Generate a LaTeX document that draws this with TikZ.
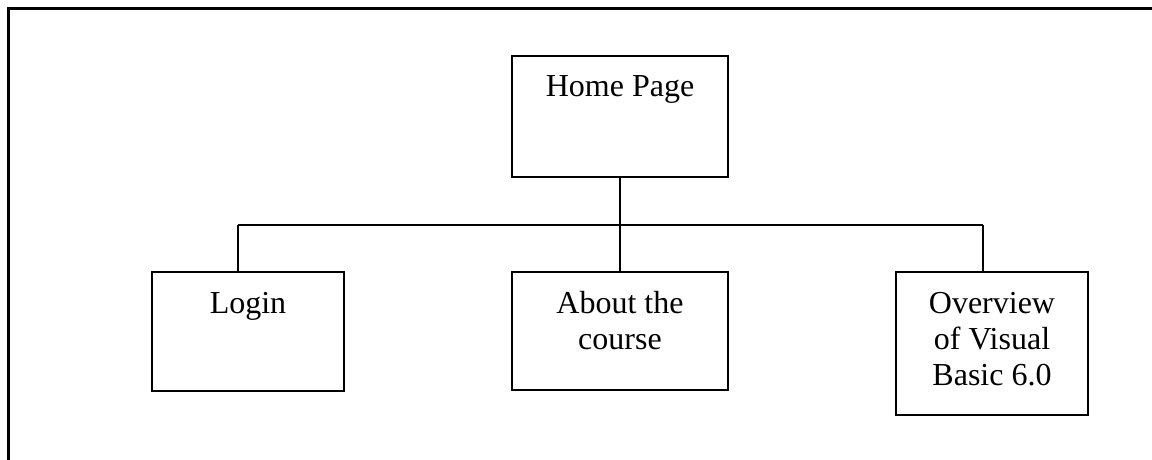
\documentclass[tikz,border=0pt]{standalone}
\usepackage{fontspec}
\setmainfont{Liberation Serif}
\usetikzlibrary{positioning,calc}

\begin{document}
\begin{tikzpicture}[
  x=1pt, y=1pt,
  pagebox/.style={draw=black, line width=1pt, anchor=north, align=center, inner xsep=0pt, inner ysep=0pt, font=\fontsize{16}{18}\selectfont},
  link/.style={draw=black, line width=0.8pt}
]
\useasboundingbox (0,0) rectangle (576,-230);
% page frame
\draw[line width=1.5pt] (4,-230) -- (4,-4.5) -- (576,-4.5);

\node[pagebox, minimum width=108pt, text height=20.5pt, text depth=40pt] (home) at (310,-27.5) {Home Page};

\node[pagebox, minimum width=96pt, text height=20.5pt, text depth=39pt] (login) at (124,-135.5) {Login};
\node[pagebox, minimum width=108pt, text height=38.5pt, text depth=20.5pt] (about) at (310,-135.5) {About the\\course};
\node[pagebox, minimum width=96pt, text height=56.5pt, text depth=15pt] (over) at (496,-135.5) {Overview\\of Visual\\Basic 6.0};

% tree lines
\coordinate (busL) at (119,-112.5);
\coordinate (busR) at (491.5,-112.5);
\draw[link] (home.south) -- (home.south |- busL);
\draw[link] (busL) -- (busR);
\draw[link] (busL) -- (busL |- login.north);
\draw[link] (home.south |- busL) -- (about.north);
\draw[link] (busR) -- (busR |- over.north);
\end{tikzpicture}
\end{document}
